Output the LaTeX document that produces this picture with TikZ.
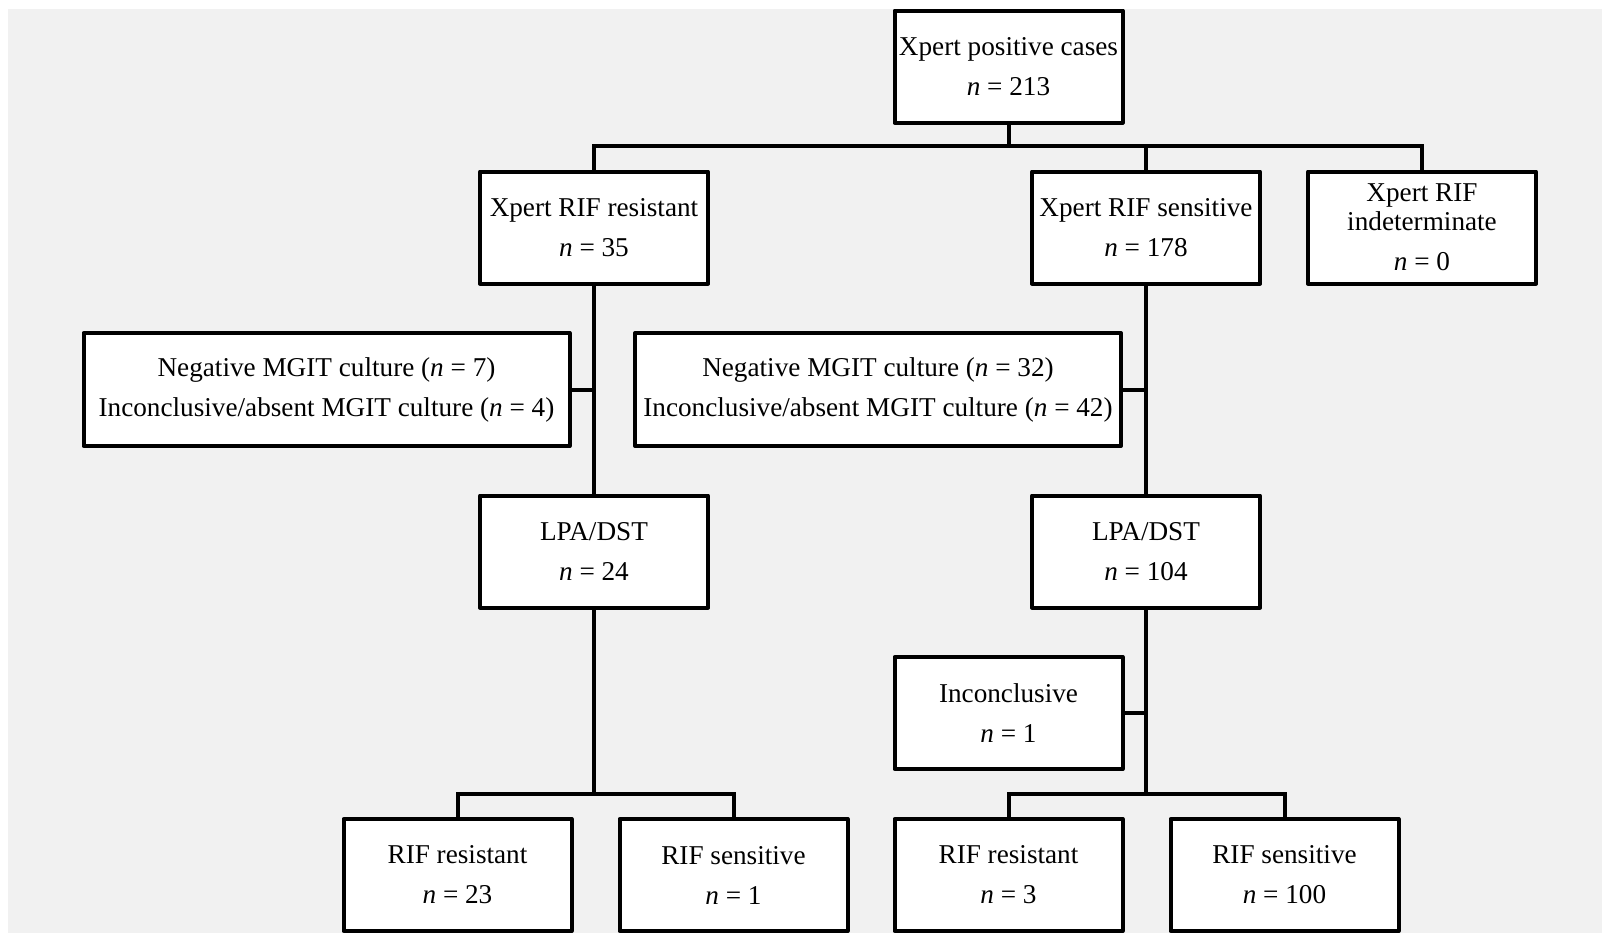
\documentclass[tikz,border=0pt]{standalone}
\usepackage{fontspec}
\setmainfont{Liberation Serif}
\usepackage{tikz}
\usetikzlibrary{positioning}
\usetikzlibrary{calc}

\definecolor{bggray}{RGB}{241,241,241}
\newcommand{\nv}{\textit{n}}

\tikzset{
  box/.style={draw=black, fill=white, line width=2pt, line join=round,
    align=center, inner sep=1pt, minimum width=114pt, minimum height=56pt,
    font=\fontsize{13.6}{20}\selectfont},
  widebox/.style={box, minimum width=243pt, minimum height=56.5pt},
  conn/.style={draw=black, line width=2pt}
}

\begin{document}
\begin{tikzpicture}[x=0.5pt, y=-0.5pt]
    % page and grey panel
    \useasboundingbox (0,0) rectangle (1602,933);
    \fill[bggray] (8,9) rectangle (1602,933);

    % first two levels
    \def\ytop{66.5};
    \def\yb{227.5};
    \node[box] (root) at (1008.5,\ytop) {Xpert positive cases\\ \nv{} = 213};
    \node[box] (res) at (594,\yb) {Xpert RIF resistant\\ \nv{} = 35};
    \node[box] (sen) at (1146,\yb) {Xpert RIF sensitive\\ \nv{} = 178};
    \node[box] (ind) at (1422,\yb) {Xpert RIF\\[-5.5pt] indeterminate\\ \nv{} = 0};

    % culture results
    \def\yc{389.5};
    \node[widebox] (negA) at (326.5,\yc) {Negative MGIT culture (\nv{} = 7)\\ Inconclusive/absent MGIT culture (\nv{} = 4)};
    \node[widebox] (negB) at (878,\yc) {Negative MGIT culture (\nv{} = 32)\\ Inconclusive/absent MGIT culture (\nv{} = 42)};

    % LPA/DST
    \def\yl{551.5};
    \node[box] (lpaA) at (594,\yl) {LPA/DST\\ \nv{} = 24};
    \node[box] (lpaB) at (1146,\yl) {LPA/DST\\ \nv{} = 104};
    \node[box] (inc) at (1008.5,713) {Inconclusive\\ \nv{} = 1};

    % bottom row
    \foreach \x/\lab/\num/\id in {457.5/RIF resistant/23/rrA, 733.5/RIF sensitive/1/rsA, 1008.5/RIF resistant/3/rrB, 1284.5/RIF sensitive/100/rsB}
        \node[box] (\id) at (\x,875) {\lab\\ \nv{} = \num};

    % connectors
    \coordinate (jTop) at (1008.5,146);
    \coordinate (jA) at (594,794);
    \coordinate (jB) at (1146,794);

    \draw[conn] (root.south) -- (jTop);
    \draw[conn] (res.north) |- (jTop) -| (ind.north);
    \draw[conn] (sen.north) -- (sen.north |- jTop);

    \draw[conn] (res.south) -- (lpaA.north);
    \draw[conn] (negA.east) -- (negA.east -| res.south);
    \draw[conn] (sen.south) -- (lpaB.north);
    \draw[conn] (negB.east) -- (negB.east -| sen.south);

    \draw[conn] (lpaA.south) -- (jA);
    \draw[conn] (rrA.north) |- (jA) -| (rsA.north);
    \draw[conn] (lpaB.south) -- (jB);
    \draw[conn] (inc.east) -- (inc.east -| lpaB.south);
    \draw[conn] (rrB.north) |- (jB) -| (rsB.north);
\end{tikzpicture}
\end{document}
